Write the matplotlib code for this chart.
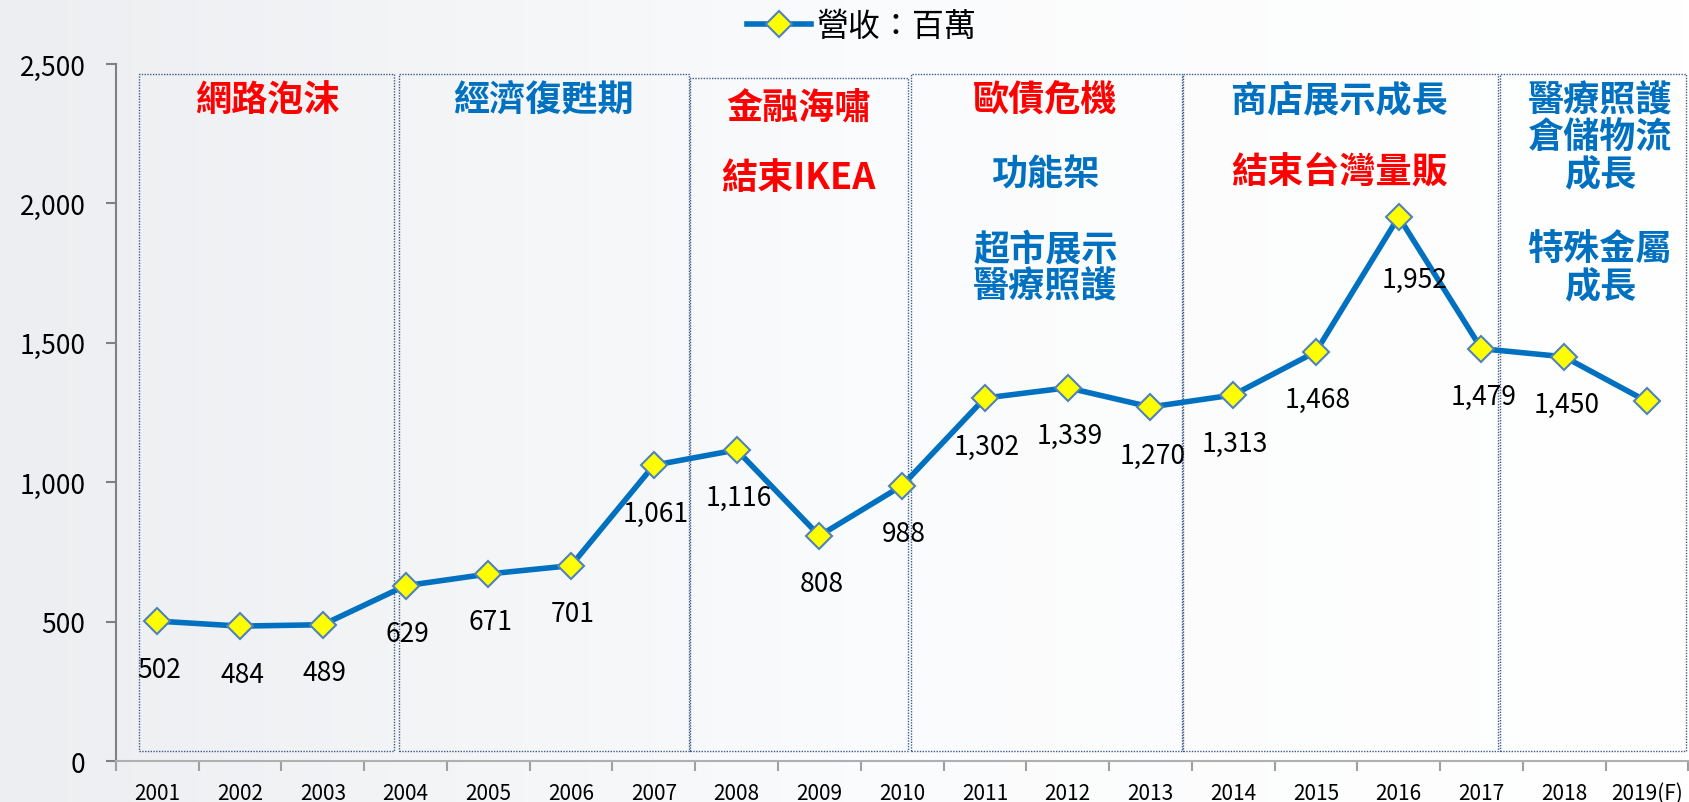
import matplotlib
matplotlib.use("Agg")
import matplotlib.pyplot as plt
import numpy as np
from matplotlib.patches import Rectangle

plt.rcParams['font.family'] = ['Noto Sans CJK TC', 'DejaVu Sans']

# data
years = ["2001", "2002", "2003", "2004", "2005", "2006", "2007", "2008", "2009", "2010",
         "2011", "2012", "2013", "2014", "2015", "2016", "2017", "2018", "2019(F)"]
revenue = [502, 484, 489, 629, 671, 701, 1061, 1116, 808, 988,
           1302, 1339, 1270, 1313, 1468, 1952, 1479, 1450, 1290]
show_label = [True] * 18 + [False]
series_name = "營收：百萬"

# period boxes: (x start, x end, y top) in category units
periods = [(-0.22, 2.86, 2465), (2.92, 6.43, 2465), (6.44, 9.07, 2450),
           (9.11, 12.38, 2465), (12.39, 16.2, 2465), (16.22, 18.47, 2465)]

RED = "#FF0000"
BLUE = "#0070C0"
# period notes: (x, y, text, colour)
notes = [
    (1.33, 2372, "網路泡沫", RED),
    (4.67, 2372, "經濟復甦期", BLUE),
    (7.75, 2345, "金融海嘯", RED),
    (7.75, 2094, "結束IKEA", RED),
    (10.73, 2372, "歐債危機", RED),
    (10.73, 2106, "功能架", BLUE),
    (10.73, 1772, "超市展示\n醫療照護", BLUE),
    (14.28, 2372, "商店展示成長", BLUE),
    (14.28, 2114, "結束台灣量販", RED),
    (17.43, 2240, "醫療照護\n倉儲物流\n成長", BLUE),
    (17.43, 1772, "特殊金屬\n成長", BLUE),
]

fig = plt.figure(figsize=(16.9, 8.03), dpi=100)

# soft grey-to-white background
bg = fig.add_axes([0, 0, 1, 1], zorder=-10)
grad = np.linspace(0, 1, 256).reshape(1, -1)
bg.imshow(grad, aspect='auto', cmap=matplotlib.colors.LinearSegmentedColormap.from_list(
    "bg", ["#ECEEF1", "#FAFBFC", "#FFFFFF"]), extent=[0, 1, 0, 1])
bg.axis('off')

ax = fig.add_axes([0.0686, 0.051, 0.9304, 0.868])
ax.patch.set_alpha(0)

x = np.arange(len(years))
line, = ax.plot(x, revenue, color=BLUE, lw=4, marker='D', markersize=13,
                markerfacecolor="#FFFF00", markeredgecolor="#4F81BD", markeredgewidth=1.5,
                label=series_name, zorder=5)

for i, v in enumerate(revenue):
    if not show_label[i]:
        continue
    dx, dy = 2, -48
    if years[i] == "2016":
        dx, dy = 16, -63
    ax.annotate(f"{v:,}", (x[i], v), xytext=(dx, dy), textcoords='offset pixels',
                ha='center', va='center', fontsize=19, color='black', zorder=6)

for x0, x1, top in periods:
    ax.add_patch(Rectangle((x0, 35), x1 - x0, top - 35, fill=False,
                           edgecolor="#3F5A8A", lw=1.0, linestyle=(0, (1, 1)), zorder=2))

for nx, ny, txt, col in notes:
    ax.text(nx, ny, txt, ha='center', va='center', fontsize=26, fontweight='bold',
            color=col, linespacing=1.0, zorder=4)

ax.set_xlim(-0.5, 18.5)
ax.set_ylim(0, 2500)
ax.set_yticks([0, 500, 1000, 1500, 2000, 2500])
ax.set_yticklabels([f"{t:,}" for t in [0, 500, 1000, 1500, 2000, 2500]])
ax.set_xticks(x)
ax.set_xticklabels(years)
ax.set_xticks(np.arange(-0.5, 19, 1), minor=True)

ax.tick_params(axis='y', direction='out', length=7, width=1.5, color="#808080",
               labelsize=19, pad=15)
ax.tick_params(axis='x', which='major', length=0, labelsize=15, pad=15)
ax.tick_params(axis='x', which='minor', direction='out', length=7, width=1.5, color="#A0A0A0")

for s in ['top', 'right']:
    ax.spines[s].set_visible(False)
ax.spines['left'].set_color("#808080")
ax.spines['left'].set_linewidth(1.5)
ax.spines['bottom'].set_color("#B0B0B0")
ax.spines['bottom'].set_linewidth(1.5)

fig.legend(handles=[line], loc='center', bbox_to_anchor=(0.51, 0.966), frameon=False,
           fontsize=23, handlelength=2.0, handletextpad=0.2)

fig.savefig("out.png", dpi=100)
